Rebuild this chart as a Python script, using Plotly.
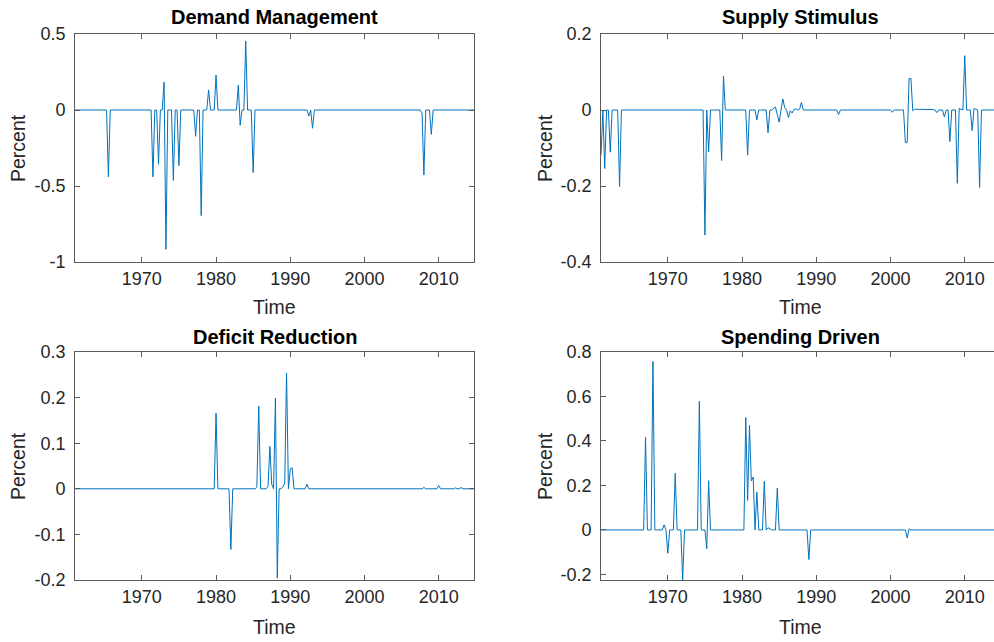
import numpy as np
import plotly.graph_objects as go

# ---------------- data (quarterly, 1961Q1 .. 2014Q4); listed quarters are non-zero ----------------
start_year = 1961.0
end_year = 2014.75

dm_dates = [1965.5, 1971.5, 1972.25, 1973.0, 1973.25, 1974.25, 1975.0, 1977.25, 1978.0,
            1979.0, 1980.0, 1983.0, 1983.25, 1984.0, 1985.0, 1992.5, 1993.0, 2007.75,
            2008.0, 2009.0]
dm_values = [-0.44, -0.44, -0.357, 0.184, -0.917, -0.463, -0.366, -0.173, -0.695,
             0.132, 0.23, 0.164, -0.10, 0.454, -0.412, -0.04, -0.12, -0.02,
             -0.428, -0.16]

ss_dates = [1961.0, 1961.5, 1962.25, 1963.5, 1975.0, 1975.5, 1977.25, 1977.5, 1980.75,
            1982.0, 1983.5, 1984.25, 1984.5, 1984.75, 1985.0, 1985.5, 1985.75, 1986.25,
            1986.5, 1986.75, 1987.0, 1987.25, 1987.75, 1988.0, 1993.0, 2000.25,
            2002.0, 2002.25, 2002.5, 2002.75, 2003.0, 2003.25, 2003.5, 2003.75, 2004.0,
            2004.25, 2004.5, 2004.75, 2005.0, 2005.25, 2005.5, 2005.75, 2006.0, 2006.25,
            2007.25, 2008.0, 2009.0, 2009.25, 2009.5, 2010.0, 2011.0, 2011.25, 2011.5,
            2012.0]
ss_values = [-0.118, -0.154, -0.111, -0.202, -0.329, -0.11, -0.133, 0.089, -0.119,
             -0.026, -0.06, 0.004, 0.008, -0.012, -0.032, 0.029, 0.006, -0.02,
             -0.002, -0.008, 0.002, 0.003, 0.002, 0.02, -0.012, -0.006,
             -0.086, -0.086, 0.083, 0.083, -0.002, 0.002, 0.002, 0.002, 0.002,
             0.002, 0.002, 0.002, 0.002, 0.002, 0.002, 0.001, 0.0, -0.007,
             -0.018, -0.083, -0.193, 0.004, 0.002, 0.143, -0.054, 0.004, 0.002,
             -0.204]

dr_dates = [1980.0, 1982.0, 1985.5, 1985.75, 1987.0, 1987.25, 1987.5, 1988.0, 1988.25,
            1989.0, 1989.25, 1989.5, 1990.0, 1990.25, 1992.25, 2008.0, 2010.0,
            2012.25, 2013.0]
dr_values = [0.166, -0.133, 0.004, 0.181, 0.005, 0.093, 0.01, 0.199, -0.196,
             0.004, 0.012, 0.254, 0.044, 0.046, 0.01, 0.003, 0.007,
             0.002, 0.003]

sd_dates = [1967.0, 1968.0, 1969.5, 1970.0, 1971.0, 1972.0, 1974.25, 1975.25, 1975.5,
            1980.5, 1980.75, 1981.0, 1981.25, 1981.5, 1982.0, 1983.0, 1983.5, 1983.75,
            1984.75, 1989.0, 2002.25, 2002.5]
sd_values = [0.417, 0.758, 0.023, -0.105, 0.255, -0.225, 0.579, -0.085, 0.221,
             0.505, 0.133, 0.47, 0.22, 0.238, 0.17, 0.218, 0.01, 0.004,
             0.188, -0.133, -0.036, 0.005]

titles = ["Demand Management", "Supply Stimulus", "Deficit Reduction", "Spending Driven"]
x_ticks = [1970, 1980, 1990, 2000, 2010]
x_ticktext = ["1970", "1980", "1990", "2000", "2010"]
y_ticks = [[-1, -0.5, 0, 0.5], [-0.4, -0.2, 0, 0.2], [-0.2, -0.1, 0, 0.1, 0.2, 0.3],
           [-0.2, 0, 0.2, 0.4, 0.6, 0.8]]
y_ticktext = [["-1", "-0.5", "0", "0.5"], ["-0.4", "-0.2", "0", "0.2"],
              ["-0.2", "-0.1", "0", "0.1", "0.2", "0.3"],
              ["-0.2", "0", "0.2", "0.4", "0.6", "0.8"]]
y_ranges = [[-1, 0.5], [-0.4, 0.2], [-0.2, 0.3], [-0.225, 0.8]]


def expand(dates, values):
    t = np.arange(start_year, end_year + 0.001, 0.25)
    y = np.zeros_like(t)
    for d, v in zip(dates, values):
        idx = int(round((d - start_year) * 4))
        y[idx] = v
    return t, y


series = [expand(dm_dates, dm_values), expand(ss_dates, ss_values),
          expand(dr_dates, dr_values), expand(sd_dates, sd_values)]

# ---------------- layout geometry ----------------
W, H = 994, 642
left_px = [(75, 474), (601, 994), (75, 474), (601, 994)]
top_px = [(34, 262), (34, 262), (352, 580), (352, 580)]
# right-hand panels extend past the window edge in the reference: clip their range
x_ranges = [[1961, 2014.75], [1961, 2014.75 - 6 / 7.42], [1961, 2014.75],
            [1961, 2014.75 - 6 / 7.42]]

fig = go.Figure()
font_family = "Liberation Sans, Arial, Helvetica, sans-serif"
axis_col = "#262626"
line_col = "#5a5a5a"

for i, (t, y) in enumerate(series):
    n = i + 1
    xa = "x" if n == 1 else f"x{n}"
    ya = "y" if n == 1 else f"y{n}"
    fig.add_trace(go.Scatter(x=t, y=y, mode="lines", xaxis=xa, yaxis=ya,
                             line=dict(color="#0072BD", width=1), showlegend=False,
                             hoverinfo="skip"))
    x0, x1 = left_px[i]
    yt, yb = top_px[i]
    right_panel = i in (1, 3)
    fig.layout[f"xaxis{'' if n == 1 else n}"] = dict(
        domain=[x0 / W, x1 / W], anchor=ya, range=x_ranges[i], automargin=False,
        tickvals=x_ticks, ticktext=x_ticktext, ticks="inside", ticklen=5,
        tickwidth=0.8, tickcolor=line_col, showline=True, linecolor=line_col,
        linewidth=0.8, mirror="ticks", showgrid=False, zeroline=False,
        tickfont=dict(family=font_family, size=18, color=axis_col),
        ticklabelstandoff=0,
    )
    fig.layout[f"yaxis{'' if n == 1 else n}"] = dict(
        domain=[1 - yb / H, 1 - yt / H], anchor=xa, range=y_ranges[i], automargin=False,
        tickvals=y_ticks[i], ticktext=y_ticktext[i], ticks="inside", ticklen=5,
        tickwidth=0.8, tickcolor=line_col, showline=True, linecolor=line_col,
        linewidth=0.8, mirror=False if right_panel else "ticks", showgrid=False,
        zeroline=False, tickfont=dict(family=font_family, size=18, color=axis_col),
        ticklabelstandoff=5,
    )

annotations = []
title_y = [17, 17, 337, 337]
title_x = [274.5, 800.5, 274.5, 800.5]
for i in range(4):
    annotations.append(dict(text=f"<b>{titles[i]}</b>", x=title_x[i] / W, y=1 - title_y[i] / H,
                            xref="paper", yref="paper", showarrow=False,
                            xanchor="center", yanchor="middle",
                            font=dict(family=font_family, size=20, color="#000000")))
    yt, yb = top_px[i]
    px = 18 if i in (0, 2) else 545
    annotations.append(dict(text="Percent", x=px / W, y=1 - (yt + yb) / 2 / H,
                            xref="paper", yref="paper", showarrow=False, textangle=-90,
                            xanchor="center", yanchor="middle",
                            font=dict(family=font_family, size=19.5, color=axis_col)))
    ty = 307 if i < 2 else 627
    annotations.append(dict(text="Time", x=title_x[i] / W, y=1 - ty / H,
                            xref="paper", yref="paper", showarrow=False,
                            xanchor="center", yanchor="middle",
                            font=dict(family=font_family, size=19.5, color=axis_col)))

fig.update_layout(width=W, height=H, margin=dict(l=0, r=0, t=0, b=0, autoexpand=False),
                  paper_bgcolor="white", plot_bgcolor="white",
                  annotations=annotations)

fig.write_html("out.html")
